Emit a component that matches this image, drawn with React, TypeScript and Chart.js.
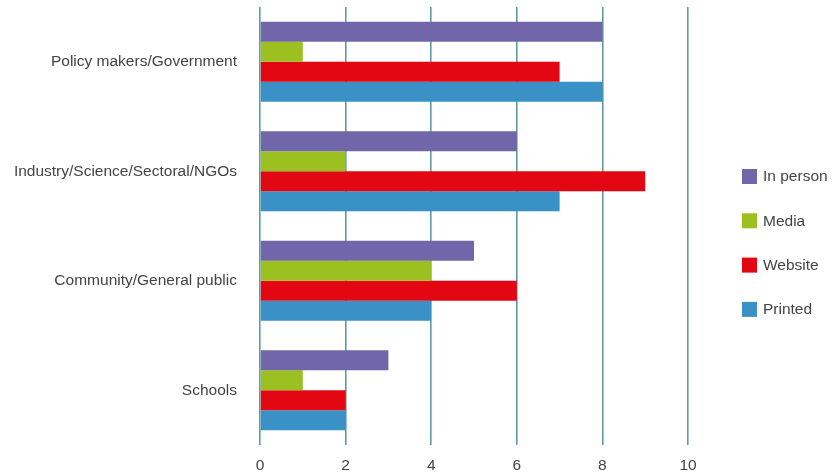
import React, { useEffect, useRef } from "react";
import { Chart, registerables } from "chart.js";

Chart.register(...registerables);

const categories = [
  "Policy makers/Government",
  "Industry/Science/Sectoral/NGOs",
  "Community/General public",
  "Schools",
];
const seriesNames = ["In person", "Media", "Website", "Printed"];
const inPerson = [8, 6, 5, 3];
const media = [1, 2, 4, 1];
const website = [7, 9, 6, 2];
const printed = [8, 7, 4, 2];
const seriesColors = ["#7266aa", "#9bc020", "#e30613", "#3a91c6"];
const xTicks = [0, 2, 4, 6, 8, 10];

const FONT = "'Liberation Sans', Arial, sans-serif";
const FS = 15.5;

const legendPlugin = {
  id: "sideLegend",
  afterDraw(chart: any) {
    const ctx = chart.ctx;
    const area = chart.chartArea;
    const x0 = area.right + 54;
    const y0 = 169;
    const step = 44.3;
    ctx.save();
    ctx.font = `${FS}px ${FONT}`;
    ctx.textBaseline = "middle";
    ctx.textAlign = "left";
    chart.data.datasets.forEach((ds: any, i: number) => {
      const y = y0 + i * step;
      ctx.fillStyle = ds.backgroundColor;
      ctx.fillRect(x0, y, 15, 15);
      ctx.fillStyle = "#444";
      ctx.fillText(ds.label, x0 + 21, y + 8);
    });
    ctx.restore();
  },
};

export default function App() {
  const ref = useRef<HTMLCanvasElement | null>(null);
  useEffect(() => {
    document.body.style.margin = "0";
    if (!ref.current) return;
    const values = [inPerson, media, website, printed];
    const chart = new Chart(ref.current, {
      type: "bar",
      data: {
        labels: categories,
        datasets: seriesNames.map((name, i) => ({
          label: name,
          data: values[i],
          backgroundColor: seriesColors[i],
          borderWidth: 0,
          barPercentage: 1,
          categoryPercentage: 0.732,
        })),
      },
      options: {
        indexAxis: "y",
        animation: false,
        responsive: true,
        maintainAspectRatio: false,
        layout: { padding: { top: 7, right: 144, left: 0, bottom: 0 } },
        plugins: {
          legend: { display: false },
          tooltip: { enabled: false },
        },
        scales: {
          x: {
            min: 0,
            max: 10,
            afterFit: (s: any) => {
              s.height = 27;
              s.paddingLeft = 0;
              s.paddingRight = 0;
            },
            afterBuildTicks: (s: any) => {
              s.ticks = xTicks.map((v) => ({ value: v }));
            },
            grid: {
              display: true,
              color: "#5c9ca1",
              lineWidth: 1.6,
              drawTicks: false,
            },
            border: { display: false },
            ticks: {
              padding: 11,
              color: "#444",
              font: { family: FONT, size: FS },
            },
          },
          y: {
            afterFit: (s: any) => {
              s.width = 260;
              s.paddingTop = 0;
              s.paddingBottom = 0;
            },
            grid: { display: false, drawTicks: false },
            border: { display: false },
            ticks: {
              padding: 23,
              color: "#444",
              font: { family: FONT, size: FS },
            },
          },
        },
      },
      plugins: [legendPlugin],
    });
    return () => chart.destroy();
  }, []);
  return (
    <div style={{ position: "relative", width: 832, height: 472 }}>
      <canvas ref={ref} />
    </div>
  );
}
